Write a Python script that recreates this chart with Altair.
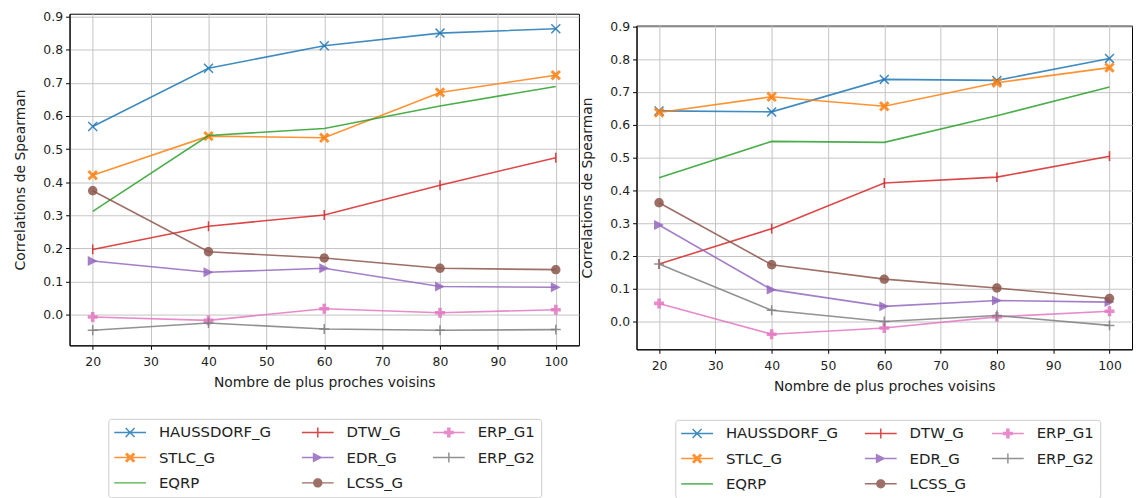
import altair as alt
import pandas as pd

# ---------------- data ----------------
K = [20, 40, 60, 80, 100]
X_TICKS = [20, 30, 40, 50, 60, 70, 80, 90, 100]
Y_TICKS = [0.0, 0.1, 0.2, 0.3, 0.4, 0.5, 0.6, 0.7, 0.8, 0.9]

SERIES = ["HAUSSDORF_G", "STLC_G", "EQRP", "DTW_G", "EDR_G", "LCSS_G", "ERP_G1", "ERP_G2"]

# left panel
haussdorf_l = [0.568, 0.744, 0.812, 0.850, 0.863]
stlc_l = [0.421, 0.539, 0.534, 0.671, 0.723]
eqrp_l = [0.312, 0.541, 0.562, 0.630, 0.689]
dtw_l = [0.197, 0.267, 0.301, 0.391, 0.474]
edr_l = [0.162, 0.128, 0.140, 0.085, 0.083]
lcss_l = [0.374, 0.190, 0.171, 0.140, 0.136]
erp1_l = [-0.007, -0.017, 0.018, 0.006, 0.015]
erp2_l = [-0.047, -0.025, -0.043, -0.047, -0.045]

# right panel
haussdorf_r = [0.642, 0.639, 0.738, 0.735, 0.802]
stlc_r = [0.637, 0.685, 0.656, 0.728, 0.774]
eqrp_r = [0.438, 0.549, 0.546, 0.627, 0.715]
dtw_r = [0.175, 0.283, 0.422, 0.440, 0.504]
edr_r = [0.294, 0.097, 0.046, 0.064, 0.059]
lcss_r = [0.362, 0.173, 0.129, 0.102, 0.070]
erp1_r = [0.055, -0.039, -0.020, 0.014, 0.031]
erp2_r = [0.175, 0.034, 0.000, 0.018, -0.012]

LEFT = dict(zip(SERIES, [haussdorf_l, stlc_l, eqrp_l, dtw_l, edr_l, lcss_l, erp1_l, erp2_l]))
RIGHT = dict(zip(SERIES, [haussdorf_r, stlc_r, eqrp_r, dtw_r, edr_r, lcss_r, erp1_r, erp2_r]))

COLORS = {
    "HAUSSDORF_G": "#1f77b4", "STLC_G": "#ff7f0e", "EQRP": "#2ca02c", "DTW_G": "#d62728",
    "EDR_G": "#9467bd", "LCSS_G": "#8c564b", "ERP_G1": "#e377c2", "ERP_G2": "#7f7f7f",
}

# ---------------- marker geometry (style) ----------------
def orient(pts):
    a = sum(pts[i][0] * pts[(i + 1) % len(pts)][1] - pts[(i + 1) % len(pts)][0] * pts[i][1]
            for i in range(len(pts)))
    return pts if a > 0 else pts[::-1]


def poly(pts, s=1.0):
    pts = orient([(x * s, y * s) for x, y in pts])
    return "M" + "L".join(f"{x:.3f},{y:.3f}" for x, y in pts) + "Z"


def seg(x1, y1, x2, y2, t):
    dx, dy = x2 - x1, y2 - y1
    n = (dx * dx + dy * dy) ** 0.5
    nx, ny = -dy / n * t, dx / n * t
    return poly([(x1 + nx, y1 + ny), (x2 + nx, y2 + ny), (x2 - nx, y2 - ny), (x1 - nx, y1 - ny)])


def circle(r):
    return f"M{r:.3f},0A{r:.3f},{r:.3f} 0 1,1 {-r:.3f},0A{r:.3f},{r:.3f} 0 1,1 {r:.3f},0Z"


X_POLY = [(-1, -0.6), (-0.6, -1), (0, -0.4), (0.6, -1), (1, -0.6), (0.4, 0),
          (1, 0.6), (0.6, 1), (0, 0.4), (-0.6, 1), (-1, 0.6), (-0.4, 0)]
A = 0.36
P_POLY = [(-A, -1), (A, -1), (A, -A), (1, -A), (1, A), (A, A), (A, 1), (-A, 1),
          (-A, A), (-1, A), (-1, -A), (-A, -A)]
TRI_R = [(1, 0), (-1, -1), (-1, 1)]

# chart markers: (shape path, filled, size)
MARKERS = {
    "HAUSSDORF_G": ("M-1,-1L1,1M-1,1L1,-1", False, 81),
    "STLC_G": (poly(X_POLY), True, 110),
    "EQRP": None,
    "DTW_G": ("M0,-1L0,1", False, 100),
    "EDR_G": (poly(TRI_R), True, 100),
    "LCSS_G": (circle(1), True, 90),
    "ERP_G1": (poly(P_POLY), True, 100),
    "ERP_G2": ("M-1,0L1,0M0,-1L0,1", False, 100),
}

# legend handles: a 32 px line with the marker in the middle.
# symbol size 225 -> 7.5 px per path unit
U = 7.5
T = 0.75 / U
H = 16 / U
LINE = poly([(-H, -T), (H, -T), (H, T), (-H, T)])
LEGEND_PATHS = {
    "HAUSSDORF_G": LINE + seg(-4.5 / U, -4.5 / U, 4.5 / U, 4.5 / U, T) + seg(-4.5 / U, 4.5 / U, 4.5 / U, -4.5 / U, T),
    "STLC_G": LINE + poly(X_POLY, 5.2 / U),
    "EQRP": LINE,
    "DTW_G": LINE + seg(0, -5 / U, 0, 5 / U, T),
    "EDR_G": LINE + poly(TRI_R, 5 / U),
    "LCSS_G": LINE + circle(4.7 / U),
    "ERP_G1": LINE + poly(P_POLY, 5 / U),
    "ERP_G2": LINE + seg(0, -5 / U, 0, 5 / U, T),
}

FONT = "DejaVu Sans"


def panel(vals, ydom, w, h, legend_x, legend_y, col_pad):
    df = pd.DataFrame([{"k": k, "value": v, "series": s}
                       for s in SERIES for k, v in zip(K, vals[s])])
    x_enc = alt.X("k:Q", scale=alt.Scale(domain=[16, 104], nice=False, zero=False),
                  axis=alt.Axis(values=X_TICKS, title="Nombre de plus proches voisins", grid=True))
    y_enc = alt.Y("value:Q", scale=alt.Scale(domain=ydom, nice=False, zero=False),
                  axis=alt.Axis(values=Y_TICKS, format=".1f", title="Correlations de Spearman", grid=True))
    layers = []
    for s in SERIES:
        m = MARKERS[s]
        if m is None:
            point = False
        else:
            shape, filled, size = m
            point = alt.OverlayMarkDef(shape=shape, filled=filled, size=size, color=COLORS[s],
                                       opacity=0.85, strokeWidth=1.5)
        layers.append(
            alt.Chart(df).transform_filter(alt.datum.series == s)
            .mark_line(color=COLORS[s], strokeWidth=1.6, opacity=0.85, point=point)
            .encode(x=x_enc, y=y_enc)
        )
    leg = alt.Legend(orient="none", legendX=legend_x, legendY=legend_y, columns=3, gridAlign="each",
                     title=None, symbolSize=225, symbolOffset=8.5, symbolStrokeWidth=0, labelFont=FONT,
                     labelFontSize=15, labelColor="#222222", labelOffset=21.5, rowPadding=9.5,
                     columnPadding=col_pad, padding=6, strokeColor="#cccccc", cornerRadius=3,
                     fillColor="white", labelLimit=300)
    legend_layer = (
        alt.Chart(df).transform_filter("false")
        .mark_point(filled=True, opacity=0.85, strokeWidth=0)
        .encode(
            color=alt.Color("series:N", scale=alt.Scale(domain=SERIES,
                                                        range=[COLORS[s] for s in SERIES]), legend=leg),
            shape=alt.Shape("series:N", scale=alt.Scale(domain=SERIES,
                                                        range=[LEGEND_PATHS[s] for s in SERIES]), legend=leg),
        )
    )
    return alt.layer(*layers, legend_layer).properties(width=w, height=h)


left = panel(LEFT, [-0.0925, 0.9085], 513, 334, 39, 408, 30)
right = panel(RIGHT, [-0.085, 0.902], 499, 326, 39, 397, 26)

# small empty spacer that lowers the right panel like in the reference
spacer = (
    alt.Chart(pd.DataFrame({"a": [0]}))
    .mark_point(size=0, opacity=0)
    .properties(width=10, height=1, view=alt.ViewBackground(stroke="transparent"))
)
right_col = alt.vconcat(spacer, right, spacing=4).resolve_scale(color="independent", shape="independent")

chart = (
    alt.hconcat(left, right_col, spacing=0)
    .resolve_scale(color="independent", shape="independent")
    .properties(padding={"left": 5, "top": 0, "right": 0, "bottom": 0})
    .configure(font=FONT)
    .configure_view(stroke="black", strokeWidth=1)
    .configure_axis(gridColor="#c4c4c4", gridWidth=1, domainColor="black", tickColor="black",
                    labelColor="#222222", titleColor="#222222", labelFont=FONT, titleFont=FONT,
                    labelFontSize=12.5, titleFontSize=14, titleFontWeight="normal", tickSize=4)
    .configure_axisX(labelPadding=6, titlePadding=8)
    .configure_axisY(labelPadding=3, titlePadding=15)
)

chart.save("out.html", embed_options={"renderer": "svg", "actions": False})
